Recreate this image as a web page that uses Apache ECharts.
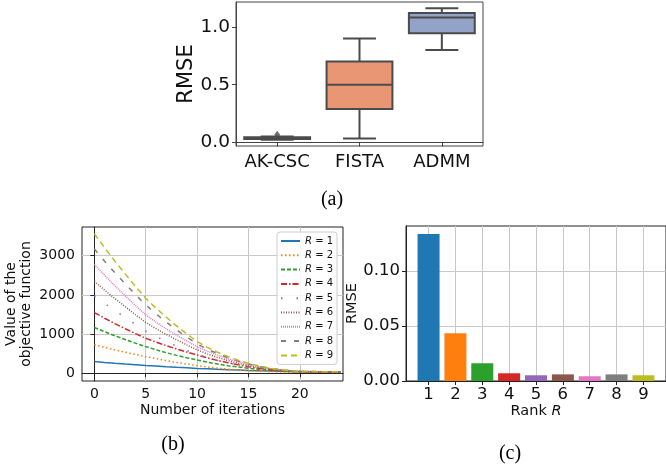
<!DOCTYPE html>
<html>
<head>
<meta charset="utf-8">
<script src="https://cdn.jsdelivr.net/npm/echarts@6/dist/echarts.min.js"></script>
<style>
html, body { margin: 0; padding: 0; background: #fff; }
#main { width: 666px; height: 469px; }
</style>
</head>
<body>
<div id="main"></div>
<script>
// (a) box plot: [min, q1, median, q3, max]
var methods = ['AK-CSC', 'FISTA', 'ADMM'];
var methodStats = [
	[0.025, 0.031, 0.039, 0.046, 0.052],
	[0.035, 0.29, 0.50, 0.70, 0.90],
	[0.80, 0.945, 1.08, 1.12, 1.16]
];
var methodOutliers = [[0, 0.068]];

// (b) objective value per iteration for each rank
var iterations = [0,1,2,3,4,5,6,7,8,9,10,11,12,13,14,15,16,17,18,19,20,21,22,23,24];
var rankLabels = ['1','2','3','4','5','6','7','8','9'];
var objR1 = [300,278,257,238,220,200,184,168,153,140,125,114,103,93,84,72,64,57,50,45,40,37,34,32,30];
var objR2 = [730,662,598,538,480,425,373,324,278,235,196,161,131,105,84,68,56,47,40,34,30,27,25,24,23];
var objR3 = [1170,1060,958,862,770,680,600,526,458,396,340,284,236,195,159,128,100,78,61,49,40,36,33,31,30];
var objR4 = [1550,1405,1268,1138,1014,894,796,705,620,541,468,394,328,270,218,170,128,96,73,57,45,40,37,35,34];
var objR5 = [1980,1785,1600,1422,1248,1080,940,812,694,583,480,398,328,268,216,170,128,96,73,57,45,42,40,38,37];
var objR6 = [2350,2122,1906,1700,1498,1300,1140,992,854,724,600,495,405,327,259,200,152,114,86,66,50,45,42,40,38];
var objR7 = [2780,2498,2232,1978,1730,1490,1304,1132,972,822,680,562,460,373,297,230,172,127,93,68,50,45,42,40,38];
var objR8 = [3170,2860,2566,2284,2010,1745,1517,1305,1109,925,750,615,500,402,316,240,178,130,94,68,50,45,42,40,38];
var objR9 = [3560,3202,2862,2536,2220,1915,1663,1429,1211,1005,810,662,536,429,336,255,189,137,98,70,50,45,42,40,38];

// (c) RMSE per rank
var ranks = [1,2,3,4,5,6,7,8,9];
var rankRmse = [0.1334, 0.0434, 0.0161, 0.0070, 0.0052, 0.0060, 0.0043, 0.0060, 0.0052];

var tab10 = ['#1f77b4','#ff7f0e','#2ca02c','#d62728','#9467bd','#8c564b','#e377c2','#7f7f7f','#bcbd22'];
var boxColors = ['#72b6a1', '#e99675', '#93a3c7'];
var dashes = ['solid', [1.5, 2.5], [4, 2], [6, 2, 1.5, 2], [1.5, 14], [1, 1.5], [1, 1], [5, 8], [6, 4]];
var objSeries = [objR1, objR2, objR3, objR4, objR5, objR6, objR7, objR8, objR9];

var chartObj = echarts.init(document.getElementById('main'), null, {renderer: 'canvas'});

var lineSeries = [];
for (var i = 0; i < objSeries.length; i++) {
	var pts = [];
	for (var j = 0; j < iterations.length; j++) {
		pts.push([iterations[j], objSeries[i][j]]);
	}
	lineSeries.push({
		name: 'R = ' + rankLabels[i],
		type: 'line',
		xAxisIndex: 1,
		yAxisIndex: 1,
		showSymbol: false,
		symbol: 'none',
		data: pts,
		lineStyle: {color: tab10[i], width: 1.5, type: dashes[i]},
		itemStyle: {color: tab10[i]}
	});
}

var boxData = [];
for (var k = 0; k < methodStats.length; k++) {
	boxData.push([k].concat(methodStats[k]));
}

var barData = [];
for (var b = 0; b < ranks.length; b++) {
	barData.push({value: [ranks[b], rankRmse[b]], itemStyle: {color: tab10[b]}});
}

var axisCommon = {
	axisLine: {show: true, lineStyle: {color: '#222', width: 1}},
	axisTick: {show: true, inside: false, length: 4, lineStyle: {color: '#222', width: 1}},
	axisLabel: {color: '#111', fontFamily: 'DejaVu Sans'},
	nameTextStyle: {color: '#111', fontFamily: 'DejaVu Sans'}
};

function mk(base, extra) {
	return echarts.util.merge(echarts.util.clone(base), extra, true);
}

var option = {
	animation: false,
	textStyle: {fontFamily: 'DejaVu Sans'},
	grid: [
		{left: 236, top: 2, width: 247, height: 144, show: true, borderColor: '#444', borderWidth: 1},
		{left: 82, top: 227, width: 261, height: 154, show: true, borderColor: '#222', borderWidth: 1},
		{left: 406, top: 226, width: 264, height: 155, show: true, borderColor: '#222', borderWidth: 1}
	],
	xAxis: [
		mk(axisCommon, {
			gridIndex: 0, type: 'category', data: methods, boundaryGap: true,
			axisLine: {lineStyle: {color: '#444'}},
			axisTick: {alignWithLabel: true, lineStyle: {color: '#444'}},
			axisLabel: {fontSize: 18, margin: 7, interval: 0, hideOverlap: false},
			splitLine: {show: false}
		}),
		mk(axisCommon, {
			gridIndex: 1, type: 'value', min: -1.2, max: 24.2,
			axisTick: {customValues: [0, 5, 10, 15, 20]},
			axisLabel: {fontSize: 14, margin: 6, customValues: [0, 5, 10, 15, 20]},
			splitLine: {show: true, lineStyle: {color: '#c8c8c8', width: 1}},
			name: 'Number of iterations', nameLocation: 'middle', nameGap: 22,
			nameTextStyle: {fontSize: 14}
		}),
		mk(axisCommon, {
			gridIndex: 2, type: 'value', min: 0.16, max: 9.84,
			axisTick: {customValues: ranks},
			axisLabel: {fontSize: 16.5, margin: 5, customValues: ranks},
			splitLine: {show: true, lineStyle: {color: '#c8c8c8', width: 1}},
			name: 'Rank {i|R}', nameLocation: 'middle', nameGap: 22,
			nameTextStyle: {fontSize: 14.5, rich: {i: {fontStyle: 'italic', fontSize: 14.5, fontFamily: 'DejaVu Sans', color: '#111'}}}
		})
	],
	yAxis: [
		mk(axisCommon, {
			gridIndex: 0, type: 'value', min: -0.03, max: 1.215,
			axisLine: {lineStyle: {color: '#444'}},
			axisTick: {customValues: [0, 0.5, 1.0], lineStyle: {color: '#444'}},
			axisLabel: {fontSize: 18.5, margin: 6, customValues: [0, 0.5, 1.0],
				formatter: function (v) { return v.toFixed(1); }},
			splitLine: {show: false},
			name: 'RMSE', nameLocation: 'middle', nameGap: 37,
			nameTextStyle: {fontSize: 21}
		}),
		mk(axisCommon, {
			gridIndex: 1, type: 'value', min: -196, max: 3732,
			axisTick: {customValues: [0, 1000, 2000, 3000]},
			axisLabel: {fontSize: 14, margin: 7, customValues: [0, 1000, 2000, 3000],
				formatter: function (v) { return String(v); }},
			splitLine: {show: true, lineStyle: {color: '#c8c8c8', width: 1}},
			name: 'Value of the\nobjective function', nameLocation: 'middle', nameGap: 48,
			nameTextStyle: {fontSize: 14, lineHeight: 15}
		}),
		mk(axisCommon, {
			gridIndex: 2, type: 'value', min: 0, max: 0.1406,
			axisTick: {customValues: [0, 0.05, 0.10]},
			axisLabel: {fontSize: 16.5, margin: 6, customValues: [0, 0.05, 0.10],
				formatter: function (v) { return v.toFixed(2); }},
			splitLine: {show: true, lineStyle: {color: '#c8c8c8', width: 1}},
			name: 'RMSE', nameLocation: 'middle', nameGap: 42,
			nameTextStyle: {fontSize: 14.5}
		})
	],
	legend: {
		show: true,
		orient: 'vertical',
		left: 277, top: 232,
		padding: [3, 4, 3, 3],
		itemWidth: 19, itemHeight: 8, itemGap: 2.3, itemTextGap: 8,
		backgroundColor: 'rgba(255,255,255,0.85)',
		borderColor: '#cccccc', borderWidth: 1, borderRadius: 3,
		selectedMode: false,
		itemStyle: {opacity: 0, borderWidth: 0},
		data: lineSeries.map(function (s) { return s.name; }),
		formatter: function (name) { return '{i|R} = ' + name.split('= ')[1]; },
		textStyle: {fontSize: 10, lineHeight: 12, color: '#111', fontFamily: 'DejaVu Sans',
			rich: {i: {fontStyle: 'italic', fontSize: 10, fontFamily: 'DejaVu Sans', color: '#111'}}}
	},
	graphic: [
		{type: 'text', x: 332, y: 200, style: {text: '(a)', font: '20px "Liberation Serif"', fill: '#000', textAlign: 'center', textVerticalAlign: 'middle'}},
		{type: 'text', x: 173, y: 445, style: {text: '(b)', font: '20px "Liberation Serif"', fill: '#000', textAlign: 'center', textVerticalAlign: 'middle'}},
		{type: 'text', x: 510, y: 454, style: {text: '(c)', font: '20px "Liberation Serif"', fill: '#000', textAlign: 'center', textVerticalAlign: 'middle'}}
	],
	series: [
		{
			type: 'custom',
			xAxisIndex: 0, yAxisIndex: 0,
			encode: {x: 0, y: [1, 2, 3, 4, 5]},
			data: boxData,
			renderItem: function (params, api) {
				var c = api.value(0);
				var pMin = api.coord([c, api.value(1)]);
				var pQ1 = api.coord([c, api.value(2)]);
				var pMed = api.coord([c, api.value(3)]);
				var pQ3 = api.coord([c, api.value(4)]);
				var pMax = api.coord([c, api.value(5)]);
				var bw = api.size([1, 0])[0] * 0.8;
				var cw = bw / 2;
				var x = pMed[0];
				var ls = {stroke: '#4b4b4b', lineWidth: 2};
				return {
					type: 'group',
					children: [
						{type: 'line', shape: {x1: x, y1: pQ1[1], x2: x, y2: pMin[1]}, style: ls},
						{type: 'line', shape: {x1: x, y1: pQ3[1], x2: x, y2: pMax[1]}, style: ls},
						{type: 'line', shape: {x1: x - cw / 2, y1: pMin[1], x2: x + cw / 2, y2: pMin[1]}, style: ls},
						{type: 'line', shape: {x1: x - cw / 2, y1: pMax[1], x2: x + cw / 2, y2: pMax[1]}, style: ls},
						{type: 'rect', shape: {x: x - bw / 2, y: pQ3[1], width: bw, height: pQ1[1] - pQ3[1]},
							style: {fill: boxColors[params.dataIndex], stroke: '#4b4b4b', lineWidth: 2}},
						{type: 'line', shape: {x1: x - bw / 2, y1: pMed[1], x2: x + bw / 2, y2: pMed[1]}, style: ls}
					]
				};
			}
		},
		{
			type: 'scatter',
			xAxisIndex: 0, yAxisIndex: 0,
			symbol: 'diamond', symbolSize: [6, 8],
			itemStyle: {color: '#4b4b4b'},
			data: methodOutliers
		}
	].concat(lineSeries).concat([
		{
			type: 'bar',
			xAxisIndex: 2, yAxisIndex: 2,
			barWidth: 22,
			data: barData
		}
	])
};
chartObj.setOption(option);
</script>
</body>
</html>
